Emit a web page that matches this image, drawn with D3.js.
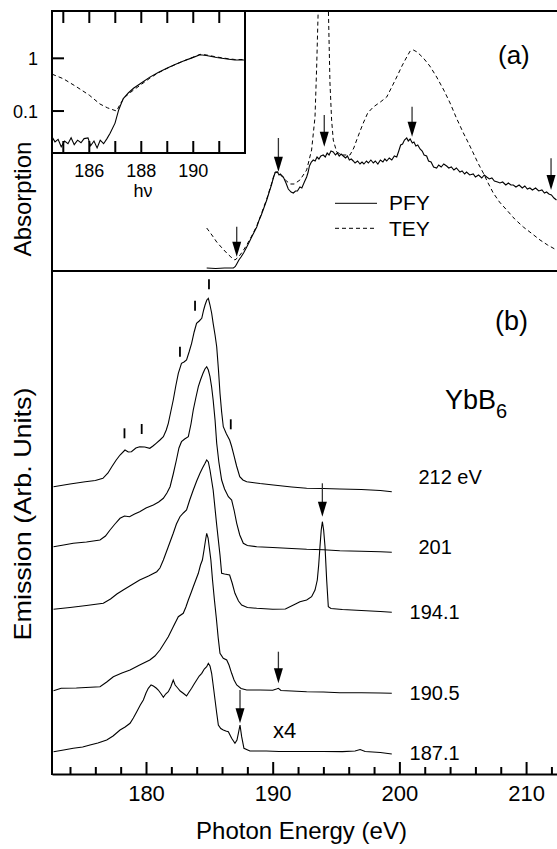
<!DOCTYPE html>
<html><head><meta charset="utf-8">
<script src="https://cdn.jsdelivr.net/npm/d3@7"></script>
<style>
body{margin:0;background:#fff}
text{font-family:"Liberation Sans",Arial,Helvetica,sans-serif;fill:#000}
</style>
</head><body>
<svg id="c" width="557" height="849"></svg>
<script>
// ---------- DATA ----------
// Panel (a): absorption, PFY (solid) and TEY (dashed), [photon energy eV, arb. units]
const pfyMain = [[184.79,0.03],[185.5,0.025],[186.2,0.03],[186.9,0.03],[187.05,0.045],[187.16,0.07],[187.33,0.11],[187.5,0.14],[187.7,0.18],[187.95,0.24],[188.15,0.29],[188.3,0.33],[188.5,0.38],[188.74,0.44],[188.9,0.50],[189.1,0.56],[189.3,0.63],[189.53,0.71],[189.7,0.78],[189.9,0.86],[190.05,0.93],[190.18,0.98],[190.37,0.99],[190.5,0.96],[190.6,0.97],[190.84,0.94],[191.05,0.88],[191.23,0.82],[191.45,0.79],[191.63,0.78],[191.8,0.80],[191.95,0.80],[192.15,0.84],[192.3,0.83],[192.5,0.89],[192.68,0.94],[192.8,0.99],
[192.9,1.05],[193.05,1.09],[193.2,1.11],[193.35,1.10],[193.5,1.14],[193.65,1.12],[193.8,1.15],[193.99,1.16],[194.15,1.14],[194.3,1.18],[194.45,1.16],[194.6,1.20],[194.78,1.19],[194.95,1.16],[195.1,1.18],[195.25,1.15],[195.4,1.17],[195.57,1.15],[195.75,1.13],[195.9,1.15],[196.05,1.11],[196.2,1.12],[196.36,1.10],[196.5,1.08],[196.7,1.10],[196.89,1.07],[197.05,1.09],[197.2,1.07],[197.4,1.10],[197.55,1.08],[197.75,1.11],[197.94,1.08],[198.1,1.10],[198.3,1.07],[198.5,1.11],[198.7,1.09],[198.85,1.12],[199.0,1.10],[199.2,1.13],[199.4,1.11],[199.6,1.15],[199.79,1.14],[199.95,1.20],[200.1,1.26],[200.25,1.27],[200.4,1.31],[200.58,1.33],[200.7,1.30],[200.85,1.32],[201.02,1.28],[201.15,1.29],[201.3,1.25],[201.45,1.26],[201.63,1.22],[201.8,1.20],[201.95,1.16],[202.15,1.15],[202.3,1.10],[202.5,1.09],[202.7,1.04],[202.94,1.03],[203.1,1.06],[203.3,1.04],[203.5,1.07],[203.73,1.05],[203.9,1.03],[204.1,1.04],[204.3,1.01],[204.5,1.03],[204.78,0.99],[204.95,1.00],[205.15,0.97],[205.3,0.99],[205.55,0.96],[205.83,0.97],[206.0,0.94],[206.25,0.96],[206.5,0.93],[206.7,0.96],[206.89,0.94],[207.1,0.92],[207.3,0.93],[207.5,0.90],[207.75,0.89],[207.94,0.88],[208.15,0.89],[208.4,0.86],[208.6,0.88],[208.8,0.86],[208.99,0.86],[209.2,0.84],[209.45,0.86],[209.7,0.83],[209.9,0.85],[210.1,0.82],[210.3,0.83],[210.5,0.81],[210.75,0.83],[211.0,0.80],[211.25,0.81],[211.45,0.78],[211.62,0.79],[211.8,0.77],[212.0,0.76],[212.2,0.73],[212.4,0.71]];
const teyMain = [[184.79,0.43],[185.2,0.36],[185.58,0.29],[186.0,0.23],[186.37,0.18],[186.7,0.14],[187.02,0.11],[187.3,0.14],[187.6,0.19],[187.95,0.26],[188.3,0.34],[188.74,0.45],[189.1,0.57],[189.53,0.72],[189.9,0.87],[190.18,0.99],[190.4,0.99],[190.7,0.95],[191.0,0.91],[191.37,0.87],[191.7,0.87],[192.15,0.91],[192.68,1.01],[193.07,1.21],[193.34,1.54],[193.47,2.04],[193.6,2.65],[193.75,3.2],[194.0,3.5],[194.25,3.2],[194.39,2.65],[194.52,1.88],[194.65,1.51],[194.78,1.31],[195.05,1.19],[195.5,1.16],[196.1,1.16],[196.4,1.23],[196.63,1.31],[196.9,1.40],[197.15,1.48],[197.5,1.58],[197.94,1.64],[198.5,1.69],[199.0,1.74],[199.4,1.84],[199.79,1.94],[200.2,2.05],[200.58,2.14],[200.85,2.20],[201.1,2.21],[201.4,2.19],[201.89,2.13],[202.4,2.05],[202.94,1.94],[203.5,1.81],[204.0,1.68],[204.5,1.53],[205.05,1.38],[205.45,1.28],[205.83,1.18],[206.2,1.08],[206.62,0.98],[207.0,0.88],[207.41,0.78],[207.9,0.69],[208.47,0.61],[209.1,0.52],[209.78,0.44],[210.4,0.38],[211.1,0.31],[211.7,0.26],[212.4,0.21]];
// Inset (log scale)
const pfyInset = [[184.57,0.032],[184.68,0.026],[184.8,0.029],[184.92,0.021],[185.05,0.027],[185.18,0.024],[185.3,0.031],[185.42,0.023],[185.55,0.028],[185.68,0.025],[185.8,0.03],[185.95,0.031],[186.05,0.022],[186.18,0.027],[186.3,0.02],[186.42,0.028],[186.55,0.024],[186.68,0.03],[186.8,0.038],[186.99,0.059],[187.13,0.105],[187.3,0.17],[187.5,0.22],[187.7,0.27],[188.0,0.34],[188.33,0.44],[188.65,0.54],[188.98,0.65],[189.3,0.76],[189.6,0.88],[189.95,1.02],[190.26,1.17],[190.5,1.13],[190.9,1.04],[191.3,0.97],[191.6,0.93],[191.99,0.93]];
const teyInset = [[184.57,0.5],[185.0,0.41],[185.5,0.29],[186.0,0.2],[186.41,0.136],[186.7,0.115],[187.05,0.1],[187.2,0.14],[187.4,0.19],[187.7,0.25],[188.0,0.32],[188.33,0.42],[188.65,0.53],[188.98,0.64],[189.3,0.76],[189.6,0.88],[189.95,1.03],[190.26,1.19],[190.5,1.16],[190.9,1.06],[191.3,0.99],[191.6,0.95],[191.99,0.95]];
// Panel (b): emission spectra (offset, arb. units)
const em212 = [[172.7,28.73],[174.0,29.0],[175.2,29.23],[176.0,29.35],[176.6,29.57],[177.0,30.1],[177.3,30.73],[177.65,31.4],[177.95,31.9],[178.34,32.4],[178.6,32.2],[178.85,32.23],[179.2,32.6],[179.5,32.73],[179.9,32.7],[180.3,32.57],[180.55,32.8],[180.8,33.07],[181.1,33.4],[181.37,33.73],[181.6,34.4],[181.76,35.07],[181.95,36.2],[182.15,37.4],[182.35,38.8],[182.55,40.07],[182.8,41.07],[183.0,41.2],[183.2,41.4],[183.4,42.2],[183.6,43.07],[183.8,44.2],[183.99,45.07],[184.2,45.3],[184.4,45.57],[184.55,46.4],[184.66,46.9],[184.8,47.4],[184.92,47.57],[185.05,46.9],[185.18,46.1],[185.3,45.07],[185.45,43.9],[185.58,42.73],[185.72,40.4],[185.84,38.07],[185.97,36.2],[186.1,34.73],[186.35,34.0],[186.6,33.4],[186.75,32.8],[186.9,32.07],[187.15,30.8],[187.4,29.73],[187.65,29.4],[187.95,29.23],[189.0,29.05],[190.05,28.9],[191.5,28.7],[192.68,28.57],[194.0,28.55],[195.3,28.5],[197.0,28.45],[198.5,28.35],[199.4,28.23]];
const em201 = [[172.7,22.73],[173.5,22.9],[174.26,23.07],[175.3,23.2],[176.37,23.4],[176.8,23.8],[177.16,24.4],[177.55,25.0],[177.95,25.57],[178.3,25.8],[178.7,25.73],[179.1,26.0],[179.5,26.23],[180.0,26.6],[180.58,26.9],[181.0,27.2],[181.37,27.57],[181.65,28.1],[181.9,28.73],[182.15,30.0],[182.4,31.4],[182.6,32.6],[182.8,33.23],[183.05,33.5],[183.34,33.73],[183.55,35.0],[183.73,36.4],[183.93,37.6],[184.13,38.73],[184.3,39.4],[184.5,40.07],[184.65,40.5],[184.79,40.73],[184.92,40.4],[185.05,39.73],[185.18,38.7],[185.3,37.4],[185.45,35.4],[185.58,33.07],[185.75,31.2],[185.97,29.4],[186.2,28.5],[186.5,27.73],[186.76,27.4],[186.95,26.4],[187.16,25.07],[187.4,23.9],[187.68,23.07],[188.0,22.85],[188.74,22.73],[190.0,22.65],[191.5,22.55],[192.68,22.47],[194.0,22.42],[195.3,22.33],[197.0,22.27],[198.5,22.22],[199.4,22.17]];
const em194 = [[172.7,16.47],[174.0,16.65],[175.3,16.85],[176.63,17.07],[177.2,17.5],[177.7,18.0],[178.2,18.4],[178.85,18.9],[179.5,19.4],[180.2,19.8],[180.85,20.23],[181.1,20.6],[181.37,21.4],[181.75,22.7],[182.15,24.07],[182.4,25.0],[182.68,25.73],[182.95,26.1],[183.2,26.4],[183.45,27.4],[183.73,28.4],[184.0,29.3],[184.26,30.07],[184.46,30.6],[184.66,31.07],[184.79,31.4],[184.92,31.2],[185.05,30.4],[185.3,28.4],[185.58,24.9],[185.84,21.9],[185.97,20.07],[186.2,20.0],[186.6,19.9],[186.8,19.1],[187.02,18.07],[187.3,17.3],[187.55,16.9],[188.0,16.65],[188.74,16.57],[190.0,16.47],[191.0,16.5],[191.8,17.0],[192.15,17.23],[192.68,17.4],[193.07,17.73],[193.34,18.4],[193.52,19.4],[193.63,20.9],[193.73,22.73],[193.83,24.4],[193.92,25.23],[194.02,24.4],[194.13,22.73],[194.26,19.4],[194.39,16.73],[194.6,16.55],[195.5,16.45],[197.0,16.35],[198.5,16.25],[199.4,16.17]];
const em190 = [[172.7,8.33],[173.3,8.57],[174.5,8.6],[176.37,8.73],[176.9,9.2],[177.42,9.73],[178.1,10.1],[178.74,10.4],[179.5,10.9],[180.3,11.4],[180.7,11.8],[181.1,12.4],[181.45,13.1],[181.76,13.73],[182.15,14.73],[182.55,15.73],[182.94,16.07],[183.15,16.7],[183.34,17.4],[183.55,18.1],[183.73,18.73],[183.93,19.4],[184.13,20.07],[184.3,20.9],[184.45,21.4],[184.58,22.4],[184.7,23.4],[184.79,24.07],[184.9,23.6],[185.0,22.6],[185.12,21.4],[185.25,19.4],[185.4,17.4],[185.55,15.6],[185.7,13.6],[185.84,12.07],[186.1,11.57],[186.37,11.4],[186.55,10.9],[186.76,10.07],[186.95,9.4],[187.16,8.9],[187.5,8.55],[187.95,8.4],[189.0,8.4],[190.0,8.38],[190.3,8.5],[190.45,8.57],[190.65,8.35],[191.5,8.3],[192.68,8.23],[194.0,8.2],[195.3,8.13],[197.0,8.12],[198.5,8.1],[199.4,8.07]];
const em187 = [[172.7,2.23],[173.5,2.4],[174.26,2.57],[175.0,2.7],[175.58,2.9],[176.2,3.1],[176.9,3.4],[177.4,3.8],[177.95,4.4],[178.35,4.7],[178.74,5.07],[179.0,5.6],[179.27,6.23],[179.55,6.9],[179.79,7.4],[180.0,8.1],[180.18,8.57],[180.4,8.9],[180.58,8.8],[180.8,8.6],[180.97,8.4],[181.2,8.0],[181.37,7.67],[181.55,8.0],[181.76,8.23],[181.95,8.7],[182.15,9.4],[182.3,8.9],[182.5,8.6],[182.7,8.3],[182.94,8.07],[183.2,7.8],[183.4,8.2],[183.6,8.57],[183.8,9.0],[184.0,9.4],[184.2,9.8],[184.4,10.07],[184.6,10.5],[184.79,10.73],[184.92,11.07],[185.05,10.8],[185.18,10.07],[185.3,8.9],[185.45,7.4],[185.58,6.1],[185.71,4.9],[185.9,4.55],[186.1,4.4],[186.3,4.3],[186.5,4.23],[186.76,3.57],[187.02,3.07],[187.18,3.4],[187.29,4.07],[187.42,4.9],[187.55,3.73],[187.73,2.57],[188.2,2.3],[189.5,2.3],[190.5,2.25],[192.0,2.25],[194.0,2.25],[195.5,2.24],[196.5,2.3],[196.9,2.45],[197.3,2.25],[198.5,2.15],[199.4,2.0]];
const spectra = [em212, em201, em194, em190, em187];
const spectrumLabels = ["212 eV","201","194.1","190.5","187.1"];
const spectrumLabelE = [201.5, 201.5, 200.8, 200.8, 200.8];
const spectrumLabelV = [29.7, 22.7, 16.2, 8.1, 2.1];
// arrows: [energy, tail value, tip value]
const arrowsA = [[187.16,0.443,0.143],[190.45,1.33,0.993],[194.07,1.56,1.243],[201.0,1.643,1.343],[211.97,1.127,0.81]];
const arrowsB = [[193.92,29.07,25.73],[190.45,12.23,9.07],[187.42,8.4,5.07]];
// feature marks on the 212 eV spectrum: [energy, lower value]
const featureMarks = [[178.3,33.57],[179.66,34.0],[182.68,41.73],[183.87,46.33],[184.97,48.47],[186.69,34.47]];
const xMajorTicks = [180,190,200,210];
const xMinorTicks = [174,176,178,182,184,186,188,192,194,196,198,202,204,206,208,212];
const insetXTicks = [185,186,187,188,189,190,191];
const insetXLabels = [186,188,190];
const insetYTicks = [0.1,1];

// ---------- LAYOUT ----------
const L=52, R=557, TOP=11, MID=271, BOT=774;
const IR=245, IB=153;
const svg = d3.select("#c");
const x = d3.scaleLinear().domain([172.58,212.44]).range([L,R]);
const ya = d3.scaleLinear().domain([0,2.6]).range([MID,TOP]);
const yb = d3.scaleLinear().domain([0,50.3]).range([BOT,MID]);
const xi = d3.scaleLinear().domain([184.565,191.99]).range([L,IR]);
const yi = d3.scaleLog().domain([0.016,7.9]).range([IB,TOP]);

const defs = svg.append("defs");
defs.append("clipPath").attr("id","clipA").append("rect").attr("x",L).attr("y",TOP).attr("width",R-L).attr("height",MID-TOP);
defs.append("clipPath").attr("id","clipI").append("rect").attr("x",L).attr("y",TOP).attr("width",IR-L).attr("height",IB-TOP);

// panel (a)
const lineA = d3.line().x(d=>x(d[0])).y(d=>ya(d[1]));
const gA = svg.append("g").attr("clip-path","url(#clipA)");
gA.append("path").attr("d",lineA(teyMain)).attr("fill","none").attr("stroke","#000").attr("stroke-width",1).attr("stroke-dasharray","4,3");
gA.append("path").attr("d",lineA(pfyMain)).attr("fill","none").attr("stroke","#000").attr("stroke-width",1.1);

function arrow(g, px, y1, y2, col){
  const hl=15, hw=4.5;
  g.append("line").attr("x1",px).attr("x2",px).attr("y1",y1).attr("y2",y2-hl+2).attr("stroke",col).attr("stroke-width",1.3);
  g.append("path").attr("d",`M${px-hw},${y2-hl}L${px+hw},${y2-hl}L${px},${y2}Z`).attr("fill","#000");
}
arrowsA.forEach(a=>arrow(svg, x(a[0]), ya(a[1]), ya(a[2]), "#333"));

// legend
svg.append("line").attr("x1",335).attr("x2",377).attr("y1",203.3).attr("y2",203.3).attr("stroke","#000").attr("stroke-width",1);
svg.append("line").attr("x1",335).attr("x2",377).attr("y1",228.3).attr("y2",228.3).attr("stroke","#000").attr("stroke-width",1).attr("stroke-dasharray","4,3");
svg.append("text").attr("x",389).attr("y",209.5).attr("font-size",21).text("PFY");
svg.append("text").attr("x",389).attr("y",236).attr("font-size",21).text("TEY");
svg.append("text").attr("x",498).attr("y",64).attr("font-size",26).text("(a)");

// inset
svg.append("rect").attr("x",L).attr("y",TOP).attr("width",IR-L).attr("height",IB-TOP).attr("fill","#fff");
const lineI = d3.line().x(d=>xi(d[0])).y(d=>yi(d[1]));
const gI = svg.append("g").attr("clip-path","url(#clipI)");
gI.append("path").attr("d",lineI(teyInset)).attr("fill","none").attr("stroke","#000").attr("stroke-width",1).attr("stroke-dasharray","4,3");
gI.append("path").attr("d",lineI(pfyInset)).attr("fill","none").attr("stroke","#000").attr("stroke-width",1.1);
const gIt = svg.append("g");
insetXTicks.forEach(t=>{
  gIt.append("line").attr("x1",xi(t)).attr("x2",xi(t)).attr("y1",TOP).attr("y2",TOP+12).attr("stroke","#000").attr("stroke-width",2);
  gIt.append("line").attr("x1",xi(t)).attr("x2",xi(t)).attr("y1",IB).attr("y2",IB-12).attr("stroke","#000").attr("stroke-width",2);
});
insetXLabels.forEach(t=>{
  gIt.append("text").attr("x",xi(t)).attr("y",177).attr("text-anchor","middle").attr("font-size",18).text(t);
});
insetYTicks.forEach(t=>{
  gIt.append("line").attr("x1",L).attr("x2",L+12).attr("y1",yi(t)).attr("y2",yi(t)).attr("stroke","#000").attr("stroke-width",2);
  gIt.append("text").attr("x",38).attr("y",yi(t)+6.5).attr("text-anchor","end").attr("font-size",18).text(t);
});
gIt.append("text").attr("x",143).attr("y",197).attr("text-anchor","middle").attr("font-size",18).text("hν");
svg.append("rect").attr("x",L).attr("y",TOP).attr("width",IR-L).attr("height",IB-TOP).attr("fill","none").attr("stroke","#000").attr("stroke-width",2);

// panel (b)
const lineB = d3.line().x(d=>x(d[0])).y(d=>yb(d[1]));
spectra.forEach(s=>{
  svg.append("path").attr("d",lineB(s)).attr("fill","none").attr("stroke","#000").attr("stroke-width",1.1);
});
spectrumLabels.forEach((t,i)=>{
  svg.append("text").attr("x",x(spectrumLabelE[i])).attr("y",yb(spectrumLabelV[i])).attr("dy","0.35em").attr("font-size",20).text(t);
});
arrowsB.forEach(a=>arrow(svg, x(a[0]), yb(a[1]), yb(a[2]), "#333"));
featureMarks.forEach(f=>{
  svg.append("line").attr("x1",x(f[0])).attr("x2",x(f[0])).attr("y1",yb(f[1])).attr("y2",yb(f[1])-10).attr("stroke","#000").attr("stroke-width",1.8);
});
svg.append("text").attr("x",273).attr("y",738).attr("font-size",22).text("x4");
const yt = svg.append("text").attr("x",445).attr("y",409).attr("font-size",27);
yt.append("tspan").text("YbB");
yt.append("tspan").attr("font-size",20).attr("dy",9).text("6");
svg.append("text").attr("x",495).attr("y",330).attr("font-size",27).text("(b)");

// axes
const axMaj = d3.axisBottom(x).tickValues(xMajorTicks).tickSizeInner(-12).tickSizeOuter(0).tickPadding(11).tickFormat(d3.format("d"));
const gx = svg.append("g").attr("transform",`translate(0,${BOT})`).call(axMaj);
gx.selectAll("text").attr("font-size",22).style("font-family","'Liberation Sans',Arial,sans-serif").attr("fill","#000");
gx.selectAll("line").attr("stroke-width",2);
gx.select(".domain").attr("stroke-width",2);
const axMin = d3.axisBottom(x).tickValues(xMinorTicks).tickSizeInner(-7).tickSizeOuter(0).tickFormat("");
const gm = svg.append("g").attr("transform",`translate(0,${BOT})`).call(axMin);
gm.selectAll("line").attr("stroke-width",2);
gm.select(".domain").remove();

// frame lines
svg.append("line").attr("x1",L).attr("x2",L).attr("y1",TOP-1).attr("y2",BOT+1).attr("stroke","#000").attr("stroke-width",2);
svg.append("line").attr("x1",L).attr("x2",R).attr("y1",TOP).attr("y2",TOP).attr("stroke","#000").attr("stroke-width",2);
svg.append("line").attr("x1",L).attr("x2",R).attr("y1",MID).attr("y2",MID).attr("stroke","#000").attr("stroke-width",2);

// titles
svg.append("text").attr("transform","translate(31,199) rotate(-90)").attr("text-anchor","middle").attr("font-size",24).text("Absorption");
svg.append("text").attr("transform","translate(31,514) rotate(-90)").attr("text-anchor","middle").attr("font-size",24)
  .attr("textLength",253).attr("lengthAdjust","spacingAndGlyphs").text("Emission (Arb. Units)");
svg.append("text").attr("x",301.5).attr("y",839).attr("text-anchor","middle").attr("font-size",24).text("Photon Energy (eV)");
</script>
</body></html>
